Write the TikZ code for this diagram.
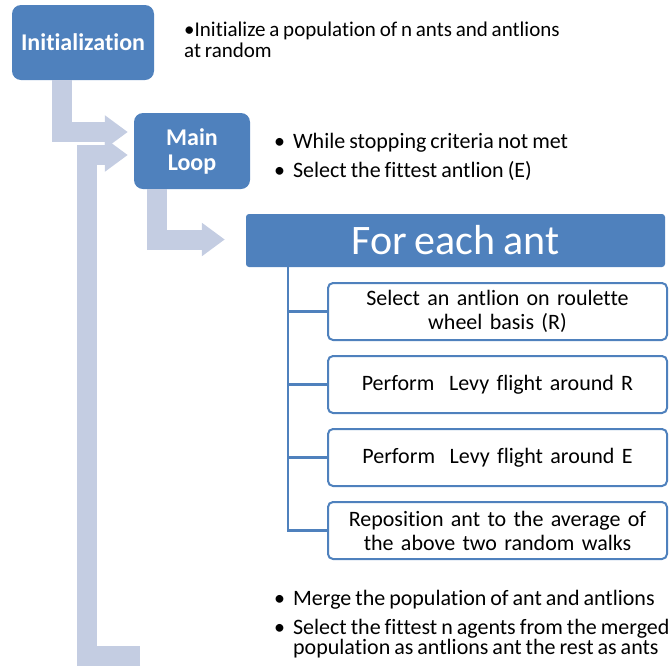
\documentclass[tikz,border=0pt]{standalone}
\usepackage{fontspec}
\setmainfont{Carlito}[Ligatures=CommonOff, WordSpace=0.8]
\usetikzlibrary{positioning,arrows.meta}

\definecolor{boxblue}{RGB}{79,129,189}
\definecolor{arblue}{RGB}{196,205,226}

\tikzstyle{m} = [rectangle, fill=boxblue, text=white, rounded corners=9pt, align=center, font=\fontsize{24}{25}\selectfont\bfseries]
\tikzstyle{s} = [rectangle, draw=boxblue, line width=2pt, fill=white, rounded corners=5pt, minimum width=339pt, minimum height=57pt, text width=330pt, inner sep=2pt, align=center, font=\fontsize{22}{24}\selectfont]
\tikzstyle{ar} = [draw=arblue, line width=20pt, -{Triangle[length=23pt, width=32pt]}]
\tikzstyle{tl} = [draw=boxblue, line width=2.5pt]
\tikzstyle{t} = [anchor=base west, align=left, inner sep=0pt, font=\fontsize{22}{24}\selectfont]

\begin{document}
\begin{tikzpicture}[x=1pt, y=-1pt]
	\useasboundingbox (0,0) rectangle (670,665);

	\node [m, minimum width=142pt, minimum height=75pt] (init) at (83,42.5) {Initialization};
	\node [m, minimum width=116pt, minimum height=76pt] (loop) at (192,151) {Main\\Loop};
	\node [m, minimum width=419pt, minimum height=53pt, rounded corners=3pt, font=\fontsize{42}{44}\selectfont] (each) at (455.5,240.5) {For each ant};

	\node [s] (s1) at (497.5,311.5) {Select an antlion on roulette\\wheel basis (R)};
	\node [s, below=14pt of s1] (s2) {Perform~ Levy flight around R};
	\node [s, below=14pt of s2] (s3) {Perform~ Levy flight around E};
	\node [s, below=14pt of s3] (s4) {Reposition ant to the average of\\the above two random walks};

	\node [t, font=\fontsize{21}{20}\selectfont] (t0) at (184,36.5) {\begin{tabular}[t]{@{}l@{}}
		\textbullet Initialize a population of n ants and antlions\\
		at random
	\end{tabular}};
	\node [t] (t1) at (274,148) {\begin{tabular}[t]{@{}l@{\hspace{8pt}}l@{}}
		\textbullet & While stopping criteria not met\\[5pt]
		\textbullet & Select the fittest antlion (E)
	\end{tabular}};
	\node [t] (t2) at (274,605) {\begin{tabular}[t]{@{}l@{\hspace{8pt}}l@{}}
		\textbullet & Merge the population of ant and antlions\\[5pt]
		\textbullet & Select the fittest n agents from the merged\\[-4pt]
		& population as antlions ant the rest as ants
	\end{tabular}};

	\coordinate (back) at (140,656);

	\draw [ar] ([xshift=-21pt]init.south) |- ([yshift=19pt, xshift=-6pt]loop.west);
	\draw [ar] (back) -| (87,155) -- ([yshift=-4pt, xshift=-6pt]loop.west);
	\draw [ar] ([xshift=-35pt]loop.south) |- ([yshift=1pt, xshift=-21pt]each.west);

	\foreach \i in {1,...,4}
		\draw [tl] ([xshift=42pt]each.south west) |- (s\i.west);

\end{tikzpicture}
\end{document}
